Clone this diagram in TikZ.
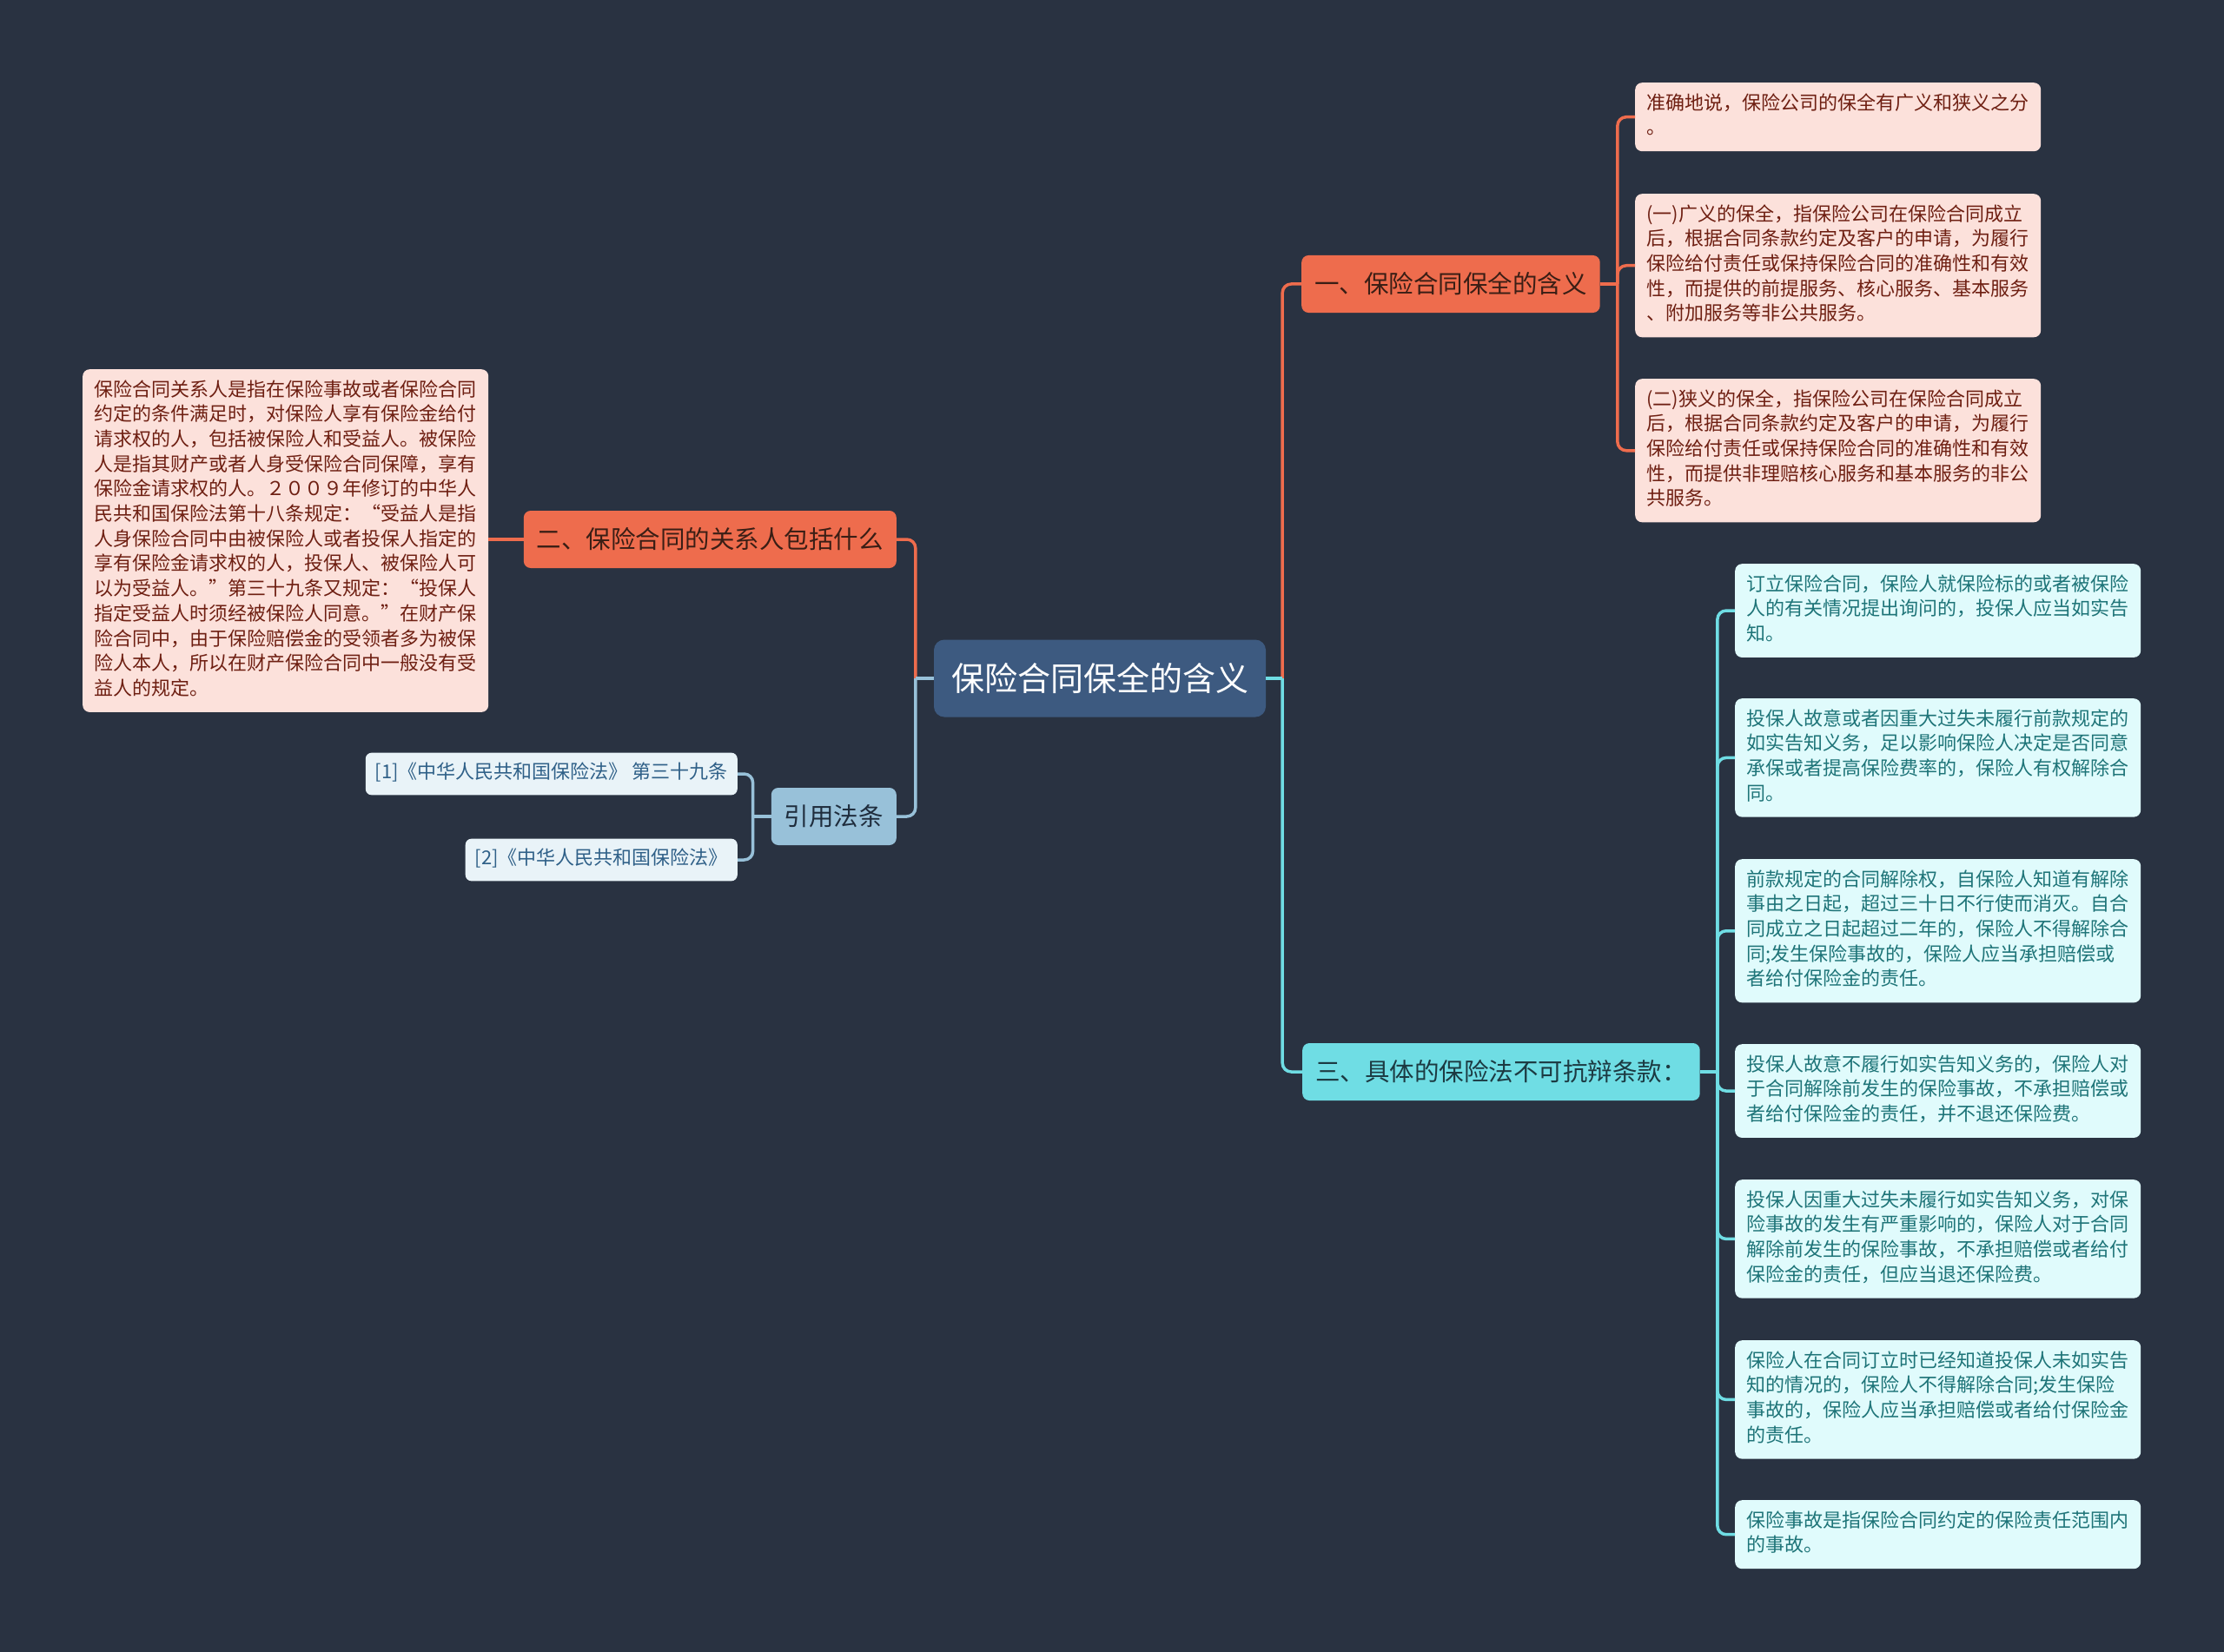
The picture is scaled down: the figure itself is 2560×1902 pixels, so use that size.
\documentclass[tikz,border=0pt]{standalone}
\usepackage{fontspec}
\setmainfont{Noto Sans CJK SC}
\usepackage{xcolor}
\usepackage{tikz}
\definecolor{bgdark}{HTML}{293241}
\definecolor{rootblue}{HTML}{3D5A80}
\definecolor{orangeC}{HTML}{EE6C4D}
\definecolor{orangeleaf}{HTML}{FCE1DB}
\definecolor{orangetext}{HTML}{6E1F12}
\definecolor{orangedark}{HTML}{3A1E15}
\definecolor{skyC}{HTML}{98C1D9}
\definecolor{skyleaf}{HTML}{E9F3F8}
\definecolor{skytext}{HTML}{2F6088}
\definecolor{skydark}{HTML}{1F2D3D}
\definecolor{cyanC}{HTML}{6FDDE4}
\definecolor{cyanleaf}{HTML}{E0FBFC}
\definecolor{cyantext}{HTML}{1E7478}
\definecolor{cyandark}{HTML}{1C3A42}

\begin{document}
\begin{tikzpicture}[x=1pt,y=-1pt,line join=round,
  link/.style={line width=3.5pt},
  elbow/.style={line width=3.5pt,rounded corners=10pt},
  topic/.style={rounded corners=8pt,inner xsep=15pt,inner ysep=0pt,minimum height=66pt,
    font=\fontsize{28.5}{34}\selectfont},
  leaf/.style={rounded corners=8pt,inner xsep=13pt,inner ysep=10.8pt,align=left,
    text width=441pt,anchor=north west,font=\fontsize{22}{28.7}\selectfont,
    execute at begin node=\strut,execute at end node=\strut},
  cite/.style={rounded corners=7pt,inner xsep=11pt,inner ysep=10pt,anchor=east,
    fill=skyleaf,text=skytext,font=\fontsize{22}{28.7}\selectfont,
    execute at begin node=\strut}]
  \fill[bgdark] (0,0) rectangle (2560,1902);
  \useasboundingbox (0,0) rectangle (2560,1902);

  \node[rounded corners=12pt,fill=rootblue,text=white,minimum width=382pt,minimum height=89pt,
    font=\fontsize{38}{44}\selectfont] (root) at (1266,781) {保险合同保全的含义};

  \node[topic,fill=orangeC,text=orangedark,anchor=west] (yi) at (1498,327) {一、保险合同保全的含义};
  \node[topic,fill=orangeC,text=orangedark,anchor=east] (er) at (1032,621) {二、保险合同的关系人包括什么};
  \node[topic,fill=skyC,text=skydark,anchor=east] (yinyong) at (1032,940) {引用法条};
  \node[topic,fill=cyanC,text=cyandark,anchor=west] (san) at (1499,1234) {三、具体的保险法不可抗辩条款：};

  \node[leaf,fill=orangeleaf,text=orangetext] (yiA) at (1882,95)
    {准确地说，保险公司的保全有广义和狭义之分\\。};
  \node[leaf,fill=orangeleaf,text=orangetext] (yiB) at (1882,223)
    {(一)广义的保全，指保险公司在保险合同成立\\后，根据合同条款约定及客户的申请，为履行\\保险给付责任或保持保险合同的准确性和有效\\性，而提供的前提服务、核心服务、基本服务\\、附加服务等非公共服务。};
  \node[leaf,fill=orangeleaf,text=orangetext] (yiC) at (1882,436)
    {(二)狭义的保全，指保险公司在保险合同成立\\后，根据合同条款约定及客户的申请，为履行\\保险给付责任或保持保险合同的准确性和有效\\性，而提供非理赔核心服务和基本服务的非公\\共服务。};

  \node[leaf,fill=orangeleaf,text=orangetext] (erA) at (95,425)
    {保险合同关系人是指在保险事故或者保险合同\\约定的条件满足时，对保险人享有保险金给付\\请求权的人，包括被保险人和受益人。被保险\\人是指其财产或者人身受保险合同保障，享有\\保险金请求权的人。２００９年修订的中华人\\民共和国保险法第十八条规定：“受益人是指\\人身保险合同中由被保险人或者投保人指定的\\享有保险金请求权的人，投保人、被保险人可\\以为受益人。”第三十九条又规定：“投保人\\指定受益人时须经被保险人同意。”在财产保\\险合同中，由于保险赔偿金的受领者多为被保\\险人本人，所以在财产保险合同中一般没有受\\益人的规定。};

  \node[cite] (ref1) at (849,891) {[1]《中华人民共和国保险法》 第三十九条};
  \node[cite] (ref2) at (849,990) {[2]《中华人民共和国保险法》};

  \node[leaf,fill=cyanleaf,text=cyantext] (sanA) at (1997,649)
    {订立保险合同，保险人就保险标的或者被保险\\人的有关情况提出询问的，投保人应当如实告\\知。};
  \node[leaf,fill=cyanleaf,text=cyantext] (sanB) at (1997,804)
    {投保人故意或者因重大过失未履行前款规定的\\如实告知义务，足以影响保险人决定是否同意\\承保或者提高保险费率的，保险人有权解除合\\同。};
  \node[leaf,fill=cyanleaf,text=cyantext] (sanC) at (1997,989)
    {前款规定的合同解除权，自保险人知道有解除\\事由之日起，超过三十日不行使而消灭。自合\\同成立之日起超过二年的，保险人不得解除合\\同;发生保险事故的，保险人应当承担赔偿或\\者给付保险金的责任。};
  \node[leaf,fill=cyanleaf,text=cyantext] (sanD) at (1997,1202)
    {投保人故意不履行如实告知义务的，保险人对\\于合同解除前发生的保险事故，不承担赔偿或\\者给付保险金的责任，并不退还保险费。};
  \node[leaf,fill=cyanleaf,text=cyantext] (sanE) at (1997,1358)
    {投保人因重大过失未履行如实告知义务，对保\\险事故的发生有严重影响的，保险人对于合同\\解除前发生的保险事故，不承担赔偿或者给付\\保险金的责任，但应当退还保险费。};
  \node[leaf,fill=cyanleaf,text=cyantext] (sanF) at (1997,1543)
    {保险人在合同订立时已经知道投保人未如实告\\知的情况的，保险人不得解除合同;发生保险\\事故的，保险人应当承担赔偿或者给付保险金\\的责任。};
  \node[leaf,fill=cyanleaf,text=cyantext] (sanG) at (1997,1727)
    {保险事故是指保险合同约定的保险责任范围内\\的事故。};

  % junctions
  \coordinate (jR) at ([xshift=19pt]root.east);
  \coordinate (jL) at ([xshift=-21pt]root.west);
  \coordinate (jYi) at ([xshift=20pt]yi.east);
  \coordinate (jSan) at ([xshift=20pt]san.east);
  \coordinate (jYin) at ([xshift=-21pt]yinyong.west);

  \draw[elbow,orangeC] (jR) |- (yi.west);
  \draw[elbow,cyanC] (jR) |- (san.west);
  \draw[link,cyanC] (root.east) -- (jR);
  \draw[elbow,orangeC] (jL) |- (er.east);
  \draw[elbow,skyC] (jL) |- (yinyong.east);
  \draw[link,skyC] (root.west) -- (jL);

  \draw[link,orangeC] (yi.east) -- (jYi);
  \foreach \c in {yiA,yiB,yiC}
    \draw[elbow,orangeC] (jYi) |- (\c.west);
  \draw[link,orangeC] (er.west) -- (er.west -| erA.east);
  \draw[link,skyC] (yinyong.west) -- (jYin);
  \foreach \c in {ref1,ref2}
    \draw[elbow,skyC] (jYin) |- (\c.east);
  \draw[link,cyanC] (san.east) -- (jSan);
  \foreach \c in {sanA,sanB,sanC,sanD,sanE,sanF,sanG}
    \draw[elbow,cyanC] (jSan) |- (\c.west);
\end{tikzpicture}
\end{document}
